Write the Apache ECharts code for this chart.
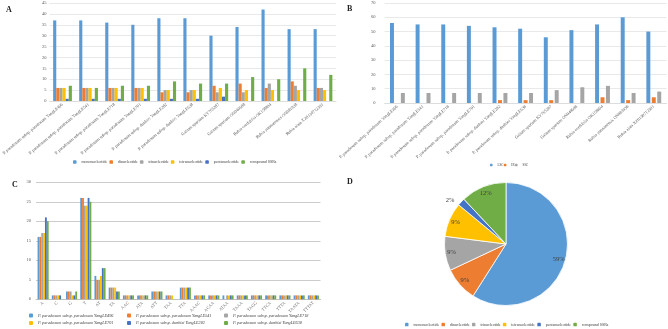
<!DOCTYPE html>
<html><head><meta charset="utf-8">
<script src="https://cdn.jsdelivr.net/npm/echarts@6/dist/echarts.min.js"></script>
<style>html,body{margin:0;padding:0;background:#fff}#c{width:668px;height:329px}</style>
</head><body><div id="c"></div>
<script>
// ---------- data ----------
const speciesLabels = [
  'P. paradoxum subsp. paradoxum YangLE496',
  'P. paradoxum subsp. paradoxum YangLE541',
  'P. paradoxum subsp. paradoxum YangLE718',
  'P. paradoxum subsp. paradoxum YangLE701',
  'P. paradoxum subsp. dunbiei YangLE282',
  'P. paradoxum subsp. dunbiei YangLE638',
  'Galium spurium KY765287',
  'Galium spurium ON040608',
  'Rubia cordifolia OK158894',
  'Rubia yunnanensis ON081038',
  'Rubia alata XZ0130712391'
];
const ssrTypes = ['mononucleotide','dinucleotide','trinucleotide','tetranucleotide','pentanucleotide','compound SSRs'];
const mono     = [37,37,36,35,38,38,30,34,42,33,33];
const di       = [6,6,6,6,4,4,7,8,6,9,6];
const tri      = [6,6,6,6,5,5,4,4,8,7,6];
const tetra    = [6,6,6,6,5,5,6,5,5,5,5];
const penta    = [1,1,1,1,1,1,2,0,0,0,0];
const compound = [7,6,7,7,9,8,8,11,10,15,12];

const regionNames = ['LSC','IR','SSC'];
const lsc = [56,55,55,54,53,52,46,51,55,60,50];
const ir  = [0,0,0,0,2,2,2,0,4,2,4];
const ssc = [7,7,7,7,7,7,9,11,12,7,8];

const motifs = ['A','C','G','T','AT','TA','AAC','ATA','ATT','TAA','TTA','AAAC','ACAA','ATAA','TAAA','TAGG','TTCA','TTTA','TAATA','TTTAT'];
const sampleNames = [
  'P. paradoxum subsp. paradoxum YangLE496',
  'P. paradoxum subsp. paradoxum YangLE541',
  'P. paradoxum subsp. paradoxum YangLE718',
  'P. paradoxum subsp. paradoxum YangLE701',
  'P. paradoxum subsp. dunbiei YangLE282',
  'P. paradoxum subsp. dunbiei YangLE638'
];
const le496 = [16,1,2,26,6,3,1,1,2,1,3,1,1,1,1,1,1,1,1,1];
const le541 = [16,1,2,26,5,3,1,1,2,1,3,1,1,0,1,1,1,1,1,1];
const le718 = [17,1,2,24,5,3,1,1,2,1,3,1,1,1,1,1,1,1,1,1];
const le701 = [17,1,1,24,6,3,1,1,2,1,3,1,1,1,1,1,1,1,1,1];
const le282 = [21,1,1,26,8,2,1,1,2,0,3,1,1,1,1,1,1,1,1,1];
const le638 = [20,0,2,25,8,2,1,1,2,0,3,1,1,1,1,1,1,1,1,1];

const piePercent = [59,9,9,9,2,12];

// ---------- styles ----------
const COLORS = ['#5B9BD5','#ED7D31','#A5A5A5','#FFC000','#4472C4','#70AD47'];
const FONT = 'Liberation Serif';
const TXT = '#595959';

const typeData = [mono,di,tri,tetra,penta,compound];
const regionData = [lsc,ir,ssc];
const sampleData = [le496,le541,le718,le701,le282,le638];

const series = [];
typeData.forEach((d,i)=>series.push({
  type:'bar', name:ssrTypes[i], xAxisIndex:0, yAxisIndex:0, data:d,
  itemStyle:{color:COLORS[i]}, barGap:'0%', barCategoryGap:'28%', silent:true
}));
regionData.forEach((d,i)=>series.push({
  type:'bar', name:regionNames[i], xAxisIndex:1, yAxisIndex:1, data:d,
  itemStyle:{color:COLORS[i]}, barGap:'37%', barCategoryGap:'42%', silent:true
}));
sampleData.forEach((d,i)=>series.push({
  type:'bar', name:sampleNames[i], xAxisIndex:2, yAxisIndex:2, data:d,
  itemStyle:{color:COLORS[i]}, barGap:'0%', barCategoryGap:'22%', silent:true
}));
const pieItems = ssrTypes.map((n,i)=>({name:n, value:piePercent[i], itemStyle:{color:COLORS[i]}}));
series.push({
  type:'pie', center:[506,244], radius:[0,61.5], startAngle:90, clockwise:true,
  data:pieItems, label:{show:false}, labelLine:{show:false}, silent:true,
  itemStyle:{borderColor:'#fff', borderWidth:0.8}
});
series.push({
  type:'pie', center:[506,244], radius:[40,64], startAngle:90, clockwise:true,
  silent:true, legendHoverLink:false,
  data:ssrTypes.map((n,i)=>({name:n, value:piePercent[i], itemStyle:{color:'rgba(0,0,0,0)'},
     label: i===4 ? {position:'outside'} : undefined})),
  label:{show:true, position:'inside', formatter:'{d}%', fontFamily:FONT, fontSize:6.5, color:'#404040'},
  labelLine:{show:false, length:0, length2:0}
});

function catAxis(idx, data, rot, fs, margin){
  return {type:'category', gridIndex:idx, data:data,
    axisTick:{show:false},
    axisLine:{show:true, lineStyle:{color:'#d9d9d9', width:0.8}},
    axisLabel:{interval:0, rotate:rot, fontSize:fs, fontFamily:FONT, color:TXT, margin:margin}};
}
function valAxis(idx, max, interval, lineColor, margin){
  return {type:'value', gridIndex:idx, min:0, max:max, interval:interval,
    axisLine:{show:false}, axisTick:{show:false},
    splitLine:{lineStyle:{color:lineColor, width:0.8}},
    axisLabel:{fontSize:4.5, fontFamily:FONT, color:TXT, margin:margin}};
}

const legendText = {fontFamily:FONT, fontSize:4, color:'#404040'};
const legendTextC = {fontFamily:FONT, fontSize:4.2, color:'#404040', fontStyle:'italic'};
const titleStyle = {fontFamily:FONT, fontSize:8, fontWeight:'bold', color:'#222'};

const cLegendPos = [[24,308.5],[122,308.5],[219,308.5],[24,316],[122,316],[219,316]];
const cLegends = sampleNames.map((n,i)=>({data:[n], left:cLegendPos[i][0], top:cLegendPos[i][1],
  itemWidth:4, itemHeight:4, textStyle:legendTextC, selectedMode:false}));

const option = {
  animation:false,
  backgroundColor:'#fff',
  title:[
    {text:'A', left:1, top:1, textStyle:titleStyle},
    {text:'B', left:342, top:0, textStyle:titleStyle},
    {text:'C', left:7, top:176, textStyle:titleStyle},
    {text:'D', left:342, top:173, textStyle:titleStyle}
  ],
  grid:[
    {left:42, top:3, width:294, height:98},
    {left:384.6, top:3, width:282, height:100},
    {left:36, top:182.3, width:284.5, height:117}
  ],
  xAxis:[
    catAxis(0, speciesLabels, 40, 4.3, 3),
    catAxis(1, speciesLabels, 42, 4.3, 3),
    Object.assign(catAxis(2, motifs, 45, 4.5, 3), {axisLine:{show:true, lineStyle:{color:'#bfbfbf', width:0.8}}})
  ],
  yAxis:[
    valAxis(0, 45, 5, '#e3e3e3', 3),
    valAxis(1, 70, 10, '#e3e3e3', 9),
    valAxis(2, 30, 5, '#bfbfbf', 5)
  ],
  legend:[
    {data:ssrTypes, left:73, top:160, padding:0, itemWidth:3.5, itemHeight:3.5, itemGap:2.2, textStyle:legendText, selectedMode:false},
    {data:regionNames, left:490, top:163.5, padding:0, itemWidth:2.5, itemHeight:2.5, itemGap:0.5, textStyle:{fontFamily:FONT, fontSize:3.2, color:'#404040'}, selectedMode:false},
    ...cLegends,
    {data:ssrTypes, left:405, top:322.5, padding:0, itemWidth:3.5, itemHeight:3.5, itemGap:2.2, textStyle:legendText, selectedMode:false}
  ],
  series:series
};
const chart = echarts.init(document.getElementById('c'), null, {renderer:'canvas'});
chart.setOption(option);
</script>
</body></html>
